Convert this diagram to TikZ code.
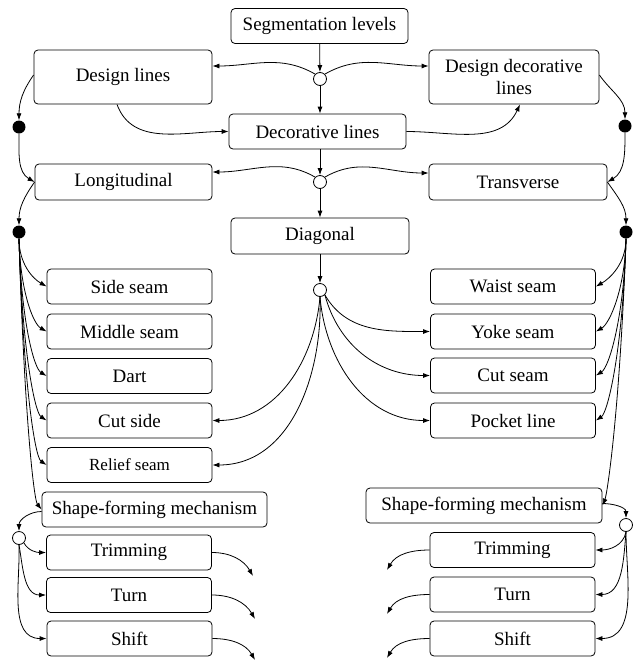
\documentclass[tikz,border=0pt]{standalone}
\usepackage{fontspec}
\setmainfont{Liberation Serif}
\usetikzlibrary{arrows.meta}

\begin{document}
\begin{tikzpicture}[x=1pt, y=1pt, >={Latex[length=7pt,width=5pt]},
    box/.style={draw, rounded corners=4pt, line width=0.8pt, minimum width=165pt, minimum height=35pt, inner sep=1pt, align=center, font=\fontsize{19}{22}\selectfont},
    hollow/.style={circle, draw, line width=0.8pt, fill=white, minimum size=13pt, inner sep=0pt},
    blob/.style={circle, fill=black, minimum size=13pt, inner sep=0pt},
    arr/.style={->, line width=0.8pt}]
    \useasboundingbox (0,0) rectangle (633,-662);

    % Levels
    \node[box, minimum width=177pt] (seg) at (319.5,-26) {Segmentation levels};
    \node[hollow] (j1) at (320,-79) {};
    \node[box, minimum width=178pt, minimum height=54pt] (design) at (123,-77) {Design lines};
    \node[box, minimum width=170pt, minimum height=54pt] (ddeco) at (514,-77) {Design decorative\\lines};
    \node[box, minimum width=177pt] (deco) at (317.5,-131.5) {Decorative lines};
    \node[blob] (hL1) at (19,-127) {};
    \node[blob] (hR1) at (625,-126) {};
    \node[box, minimum width=177pt, minimum height=36pt] (longi) at (123.5,-182) {Longitudinal};
    \node[hollow] (j2) at (320,-182) {};
    \node[box, minimum width=178pt, minimum height=36pt] (trans) at (518,-182) {Transverse};
    \node[box, minimum width=178pt, minimum height=36pt] (diag) at (320,-236) {Diagonal};
    \node[blob] (hL2) at (19,-232) {};
    \node[blob] (hR2) at (626,-232) {};
    \node[hollow] (j3) at (320,-290) {};

    % Seam types
    \node[box] (side) at (129.5,-286.5) {Side seam};
    \node[box] (middle) at (129.5,-331.5) {Middle seam};
    \node[box] (dart) at (129.5,-376) {Dart};
    \node[box] (cutside) at (129.5,-420.5) {Cut side};
    \node[box, font=\fontsize{17}{20}\selectfont] (relief) at (129.5,-465) {Relief seam};
    \node[box] (waist) at (513,-286.5) {Waist seam};
    \node[box] (yoke) at (513,-331.5) {Yoke seam};
    \node[box] (cutseam) at (513,-375.5) {Cut seam};
    \node[box] (pocket) at (513,-420.5) {Pocket line};

    % Shape-forming mechanism
    \node[box, minimum width=225pt] (sfmL) at (154.5,-509.5) {Shape-forming mechanism};
    \node[hollow] (jL) at (19,-538) {};
    \node[box] (trimL) at (129,-552.5) {Trimming};
    \node[box] (turnL) at (129,-595) {Turn};
    \node[box] (shiftL) at (129.5,-638.5) {Shift};
    \node[box, minimum width=236pt] (sfmR) at (484,-505.5) {Shape-forming mechanism};
    \node[hollow] (jR) at (626,-525) {};
    \node[box] (trimR) at (512.5,-550) {Trimming};
    \node[box] (turnR) at (512.5,-594.5) {Turn};
    \node[box] (shiftR) at (512.5,-638.5) {Shift};
    \coordinate (outTrimL) at (253,-576);
    \coordinate (outTurnL) at (255,-619);
    \coordinate (outShiftL) at (255,-660);
    \coordinate (outTrimR) at (387,-570);
    \coordinate (outTurnR) at (387,-614);
    \coordinate (outShiftR) at (387,-658);

    % Top connectors
    \draw[arr] (seg) -- (j1);
    \draw[arr] (j1.north west) to[out=150, in=0] ([yshift=11pt]design.east);
    \draw[arr] (j1.north east) to[out=30, in=180] ([yshift=11pt]ddeco.west);
    \draw[arr] (j1) -- (j1 |- deco.north);
    \draw[arr] ([xshift=-6pt]design.south) to[out=-70, in=180] (deco.west);
    \draw[arr] (deco.east) to[out=0, in=-115] ([xshift=6pt]ddeco.south);
    \draw[arr] ([yshift=2pt]design.west) to[out=-125, in=90] (hL1);
    \draw[arr] (hL1) to[out=-90, in=150] (longi.west);
    \draw[arr] ([yshift=2pt]ddeco.east) to[out=-55, in=90] (hR1);
    \draw[arr] (hR1) to[out=-90, in=30] (trans.east);
    \draw[arr] (j2 |- deco.south) -- (j2);
    \draw[arr] (j2.north west) to[out=150, in=0] ([yshift=10pt]longi.east);
    \draw[arr] (j2.north east) to[out=30, in=180] ([yshift=9pt]trans.west);
    \draw[arr] (j2) -- (j2 |- diag.north);
    \draw[arr] (longi.west) to[out=-125, in=90] (hL2);
    \draw[arr] (trans.east) to[out=-55, in=90] (hR2);
    \draw[arr] (diag) -- (j3);

    % Diagonal fan
    \draw[arr] (j3.south) to[out=-95, in=0] (cutside.east);
    \draw[arr] (j3.south) to[out=-88, in=0] (relief.east);
    \draw[arr] (j3.south east) to[out=-60, in=180] (yoke.west);
    \draw[arr] (j3.south east) to[out=-75, in=180] (cutseam.west);
    \draw[arr] (j3.south) to[out=-85, in=180] (pocket.west);

    % Longitudinal fan
    \draw[arr] (hL2.south) .. controls +(0,-25) and +(-14,8) .. (side.west);
    \draw[arr] (hL2.south) .. controls +(1,-50) and +(-14,8) .. (middle.west);
    \draw[arr] (hL2.south) .. controls +(2,-80) and +(-13,8) .. (dart.west);
    \draw[arr] (hL2.south) .. controls +(3,-110) and +(-12,8) .. (cutside.west);
    \draw[arr] (hL2.south) .. controls +(4,-140) and +(-12,8) .. (relief.west);
    \draw[arr] (hL2.south) .. controls +(5,-170) and +(-8,10) .. (sfmL.west);

    % Transverse fan
    \draw[arr] (hR2.south) .. controls +(0,-25) and +(14,8) .. (waist.east);
    \draw[arr] (hR2.south) .. controls +(-1,-50) and +(14,8) .. (yoke.east);
    \draw[arr] (hR2.south) .. controls +(-2,-80) and +(13,8) .. (cutseam.east);
    \draw[arr] (hR2.south) .. controls +(-3,-110) and +(12,8) .. (pocket.east);
    \draw[arr] (hR2.south) .. controls +(-6,-170) and +(5,12) .. (sfmR.east);

    % Mechanism fans
    \draw[arr] ([yshift=-2pt]sfmL.west) to[out=180, in=90] (jL);
    \draw[arr] (jL.south east) to[out=-60, in=180] (trimL.west);
    \draw[arr] (jL.south) to[out=-80, in=180] (turnL.west);
    \draw[arr] (jL.south) to[out=-88, in=180] (shiftL.west);
    \draw[arr] ([yshift=2pt]sfmR.east) to[out=0, in=90] (jR);
    \draw[arr] (jR.south) to[out=-100, in=0] (trimR.east);
    \draw[arr] (jR.south) to[out=-95, in=0] (turnR.east);
    \draw[arr] (jR.south) to[out=-90, in=0] (shiftR.east);

    % Outgoing
    \draw[arr] (trimL.east) to[out=0, in=120] (outTrimL);
    \draw[arr] (turnL.east) to[out=0, in=120] (outTurnL);
    \draw[arr] (shiftL.east) to[out=0, in=120] (outShiftL);
    \draw[arr] (trimR.west) to[out=180, in=60] (outTrimR);
    \draw[arr] (turnR.west) to[out=180, in=60] (outTurnR);
    \draw[arr] (shiftR.west) to[out=180, in=60] (outShiftR);
\end{tikzpicture}
\end{document}
